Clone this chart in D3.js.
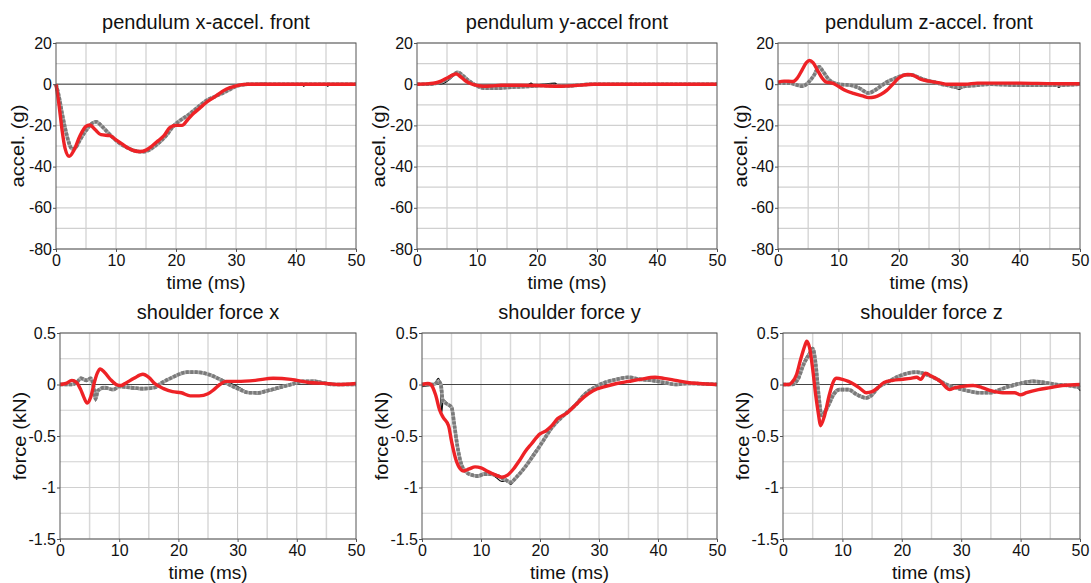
<!DOCTYPE html>
<html><head><meta charset="utf-8">
<script src="https://cdn.jsdelivr.net/npm/d3@7/dist/d3.min.js"></script>
<style>
body{margin:0;background:#fff;}
svg text{font-family:"Liberation Sans",Arial,sans-serif;fill:#111;}
</style></head>
<body><svg id="c" width="1091" height="583"></svg>
<script>
// ---------- DATA ----------
const titles = ["pendulum x-accel. front","pendulum y-accel front","pendulum z-accel. front","shoulder force x","shoulder force y","shoulder force z"];
const yLabels = ["accel. (g)","accel. (g)","accel. (g)","force (kN)","force (kN)","force (kN)"];
const xLabel = "time (ms)";
const xTicks = [0,10,20,30,40,50];
const accelTicks = [20,0,-20,-40,-60,-80];
const forceTicks = [0.5,0,-0.5,-1,-1.5];
const forceTickLabels = ["0.5","0","-0.5","-1","-1.5"];

// pendulum x-accel
const xAccRed = [[0,0],[0.5,-10],[1,-22],[1.5,-31],[2.2,-35],[3,-32],[4,-25],[5,-20.5],[5.6,-19.8],[6.5,-22],[7.5,-24.5],[9,-25],[10,-27],[11,-29],[12,-31],[13,-32.3],[14,-32.7],[15,-32],[16,-30],[17,-27.5],[18,-25],[19,-21],[20,-20],[21,-20],[22,-17],[23,-14],[24,-11.5],[25,-9],[26,-7],[27,-5],[28,-3],[29,-1.7],[30,-0.8],[31,-0.2],[32,0],[40,0],[50,0]];
const xAccGray = [[0,0],[0.5,-6],[1,-14],[1.5,-21],[2,-27],[2.7,-31.5],[3.2,-31],[4,-27],[5,-22.5],[6,-19],[6.7,-18.2],[7.5,-20],[8.5,-23],[9.5,-26],[10.5,-28.5],[12,-31],[13,-32.2],[14.5,-32.8],[15.5,-32],[16.5,-30],[17.5,-27.5],[18.5,-24.5],[19.5,-20.5],[20.5,-18],[22,-15],[23.5,-11.5],[25,-8],[26.5,-6],[28,-4],[29,-2.5],[30,-1],[31,-0.3],[32,0],[40,0],[50,0]];
const xAccBlack = [[0,0],[0.5,-6],[1,-14],[1.5,-21],[2,-27],[2.7,-31],[3.2,-30.5],[4,-26.5],[5,-22],[6,-19],[6.7,-18.5],[7.5,-20.5],[8.5,-23],[9.5,-25.5],[10.5,-28.5],[12,-31],[13,-32],[14.5,-32.5],[15.5,-32],[16.5,-30],[17.5,-27.5],[18.5,-24.5],[19.5,-21],[20.5,-18],[22,-15],[23.5,-11.5],[25,-8],[26.5,-6],[28,-4],[29,-2.5],[30,-1],[31,-0.3],[32,0],[35,0.5],[35.5,0],[41,0],[41.3,-1],[41.6,0],[45,0],[45.3,-1],[45.6,0],[50,0]];

// pendulum y-accel
const yAccRed = [[0,0],[2,0.3],[3,0.6],[4,1.5],[5,3],[6,4.5],[6.5,5],[7,4.2],[8,1.8],[9,0.2],[10,-0.6],[11,-1],[12.5,-0.8],[14,-0.5],[17,-0.5],[20,-0.6],[22,-0.9],[24,-1],[26,-0.7],[28,-0.3],[29.5,0],[40,0],[50,0]];
const yAccGray = [[0,0],[2,0],[3,0.3],[4,1],[5,2.5],[6,4.5],[6.8,5.8],[7.5,4.5],[8.5,2],[9.5,0],[10.5,-1.5],[11.5,-2],[13,-2],[15,-1.6],[17,-1.3],[19,-1],[21,-0.6],[23,-0.8],[25,-0.9],[27,-0.4],[29,0],[40,0],[50,0]];
const yAccBlack = [[0,-0.5],[2,-0.3],[3.5,0],[4.5,0.5],[5.5,2.5],[6.5,5],[7.2,5],[8,3],[9,0.8],[10.5,-1],[12,-1.2],[14,-1],[16,-0.8],[18.5,-0.3],[19,0.5],[19.5,-0.5],[21,0],[23,0.5],[23.5,-0.5],[26,-0.3],[29,0],[40,0],[50,0]];

// pendulum z-accel
const zAccRed = [[0,1],[1,1.5],[2.5,1.3],[3.2,3],[4,7],[4.7,10.5],[5.2,11.5],[5.8,10.5],[6.5,7],[7.3,3],[8,1],[9,0.5],[10,-1],[11,-2.8],[12.5,-4.5],[14,-5.7],[15,-6.5],[16,-6.2],[17,-5],[18,-3],[19,0],[20,3],[21.5,4.7],[22.5,4.2],[23.5,2.5],[25,1.5],[26,1],[27,0.5],[28,0],[31,0],[33,0.5],[40,0.5],[45,0.3],[50,0.2]];
const zAccGray = [[0,0.5],[2,0.5],[3,-0.3],[4,-1],[5,0.8],[6,4.5],[6.8,8.5],[7.5,6],[8.5,2],[10,0],[12,-0.5],[13.5,-2],[15,-4.3],[16,-3],[17,-1],[18,1],[19.5,3],[21,4.5],[22,4.6],[23.5,3],[25,1.5],[26,1],[27,0],[28,-0.5],[29.5,-1.5],[31,-1],[33,-0.5],[35,0],[40,-0.5],[46,-0.5],[50,0]];
const zAccBlack = [[0,0.5],[2,0.5],[3,-0.3],[4,-0.8],[5,1],[6,4.5],[6.8,8],[7.5,6],[8.5,2],[10,0],[12,-0.3],[13.5,-1.5],[15,-4],[16,-3],[17,-1],[18,1],[19.5,3],[21,4.3],[22,4.5],[23.5,3],[25,1.5],[26,1],[27,0],[28,-0.5],[29.5,-2],[30,-2.5],[31,-1],[33,-0.5],[35,0],[40,-0.5],[46,-0.5],[46.5,-1.5],[47,-0.5],[50,0]];

// shoulder force x
const fxRed = [[0,0],[1,0.01],[2,0.04],[2.8,0.02],[3.5,-0.05],[4,-0.12],[4.6,-0.18],[5.2,-0.12],[5.8,0.02],[6.3,0.11],[6.8,0.15],[7.5,0.12],[8.5,0.05],[9.5,0],[10.3,-0.01],[11,0.01],[12.5,0.06],[14,0.1],[15,0.07],[16,0.01],[17.5,-0.04],[19,-0.07],[20.5,-0.08],[22,-0.11],[23.5,-0.11],[25,-0.09],[26,-0.05],[27,0],[28,0.03],[30,0.03],[33,0.04],[36,0.06],[39,0.05],[40,0.04],[42,0.02],[45,0.01],[47,0],[50,0.01]];
const fxGray = [[0,0],[2,0],[3,0.03],[3.5,0.06],[4.5,0.04],[5.2,0.06],[5.7,-0.03],[6,-0.14],[6.4,-0.06],[7.5,-0.03],[9,-0.05],[10,-0.02],[12,-0.03],[14,-0.04],[16,-0.03],[17,0.01],[19,0.07],[21.5,0.12],[23,0.12],[25,0.1],[27,0.05],[28.5,0],[30,-0.04],[32,-0.08],[33.5,-0.08],[35,-0.06],[37,-0.03],[39,0],[41,0.03],[43,0.03],[44,0.02],[46,0],[50,0]];
const fxBlack = [[0,0],[2,0],[3,0.03],[3.5,0.07],[4.5,0.05],[5.2,0.06],[5.7,-0.02],[6,-0.16],[6.4,-0.07],[7,-0.04],[9,-0.05],[10,-0.02],[12,-0.04],[14,-0.05],[16,-0.03],[17,0.01],[19,0.07],[21.5,0.12],[23,0.12],[25,0.1],[27,0.06],[28.5,0.02],[30,-0.02],[32,-0.08],[33.5,-0.09],[35,-0.07],[37,-0.04],[39,0],[41,0.03],[43,0.04],[44,0.03],[46,0.01],[50,0]];

// shoulder force y
const fyRed = [[0,0],[1,0.01],[1.5,0],[2.3,-0.1],[3,-0.25],[3.6,-0.32],[4.5,-0.4],[5,-0.55],[5.7,-0.72],[6.5,-0.82],[7,-0.84],[8,-0.82],[9,-0.8],[10,-0.81],[11,-0.84],[12.5,-0.88],[13.5,-0.9],[14.5,-0.88],[15.5,-0.82],[16.5,-0.74],[17.5,-0.65],[18.5,-0.58],[20,-0.48],[21,-0.45],[22,-0.4],[23,-0.33],[24.5,-0.28],[26,-0.2],[27.5,-0.12],[29,-0.06],[31,-0.02],[33,0.01],[35,0.03],[37,0.05],[39.5,0.07],[41,0.06],[43,0.04],[45,0.02],[47,0.01],[50,0]];
const fyGray = [[0,0],[2,0],[2.8,0.03],[3.2,0],[3.5,-0.15],[4,-0.18],[5,-0.22],[5.5,-0.4],[6,-0.6],[6.7,-0.78],[7.5,-0.85],[8.5,-0.88],[9.5,-0.89],[10.5,-0.87],[11.5,-0.87],[12.5,-0.88],[14,-0.92],[15,-0.95],[16,-0.9],[17.5,-0.8],[19,-0.68],[20.5,-0.55],[22,-0.42],[24,-0.3],[26,-0.2],[27.5,-0.1],[29.5,-0.02],[31,0.02],[33,0.05],[35,0.07],[37,0.05],[39,0.04],[41,0.02],[43,0],[45,0.01],[50,0]];
const fyBlack = [[0,-0.02],[2,0],[2.8,0.06],[3.1,0],[3.3,-0.28],[3.6,-0.15],[4.5,-0.2],[5,-0.23],[5.5,-0.4],[6,-0.6],[6.7,-0.78],[7.5,-0.85],[8.5,-0.87],[9.5,-0.88],[10.5,-0.86],[11.5,-0.86],[12.5,-0.9],[13.5,-0.94],[14.5,-0.93],[15,-0.97],[16,-0.9],[17.5,-0.79],[19,-0.66],[20.5,-0.55],[22,-0.42],[24,-0.3],[26,-0.19],[27.5,-0.09],[29.5,-0.02],[31,0.02],[33,0.05],[35,0.07],[37,0.05],[39,0.03],[41,0.02],[43,0],[45,0.01],[50,0]];

// shoulder force z
const fzRed = [[0,0],[1,0],[1.5,0.02],[2.3,0.1],[3,0.25],[3.7,0.38],[4,0.42],[4.5,0.35],[5,0.15],[5.5,-0.1],[6,-0.3],[6.3,-0.4],[7,-0.3],[7.8,-0.1],[8.5,0.03],[9,0.06],[10,0.05],[11,0.03],[12,0],[13,-0.04],[14,-0.08],[15,-0.07],[16,-0.03],[17,0.02],[18.5,0.04],[20,0.05],[21.5,0.06],[22.5,0.07],[23.2,0.05],[24,0.11],[25,0.08],[26.5,0.03],[27.5,-0.03],[28,-0.05],[29,-0.03],[30,-0.02],[32,-0.01],[33.5,-0.03],[35,-0.06],[37,-0.08],[39,-0.08],[40,-0.1],[41,-0.08],[43,-0.05],[45,-0.03],[47,-0.01],[50,0]];
const fzGray = [[0,0],[1.5,0],[2.5,0.05],[3.5,0.2],[4.5,0.3],[5,0.35],[5.5,0.2],[6,-0.1],[6.5,-0.3],[7.5,-0.22],[8.5,-0.1],[9.5,-0.05],[11,-0.05],[12.5,-0.1],[14,-0.13],[15,-0.1],[16,-0.03],[17.5,0.02],[19.5,0.08],[21,0.11],[22.5,0.12],[24,0.1],[26,0.05],[27.5,0],[29,-0.03],[31,-0.06],[33,-0.08],[35,-0.08],[36.5,-0.05],[38,-0.02],[40,0.01],[42,0.03],[44,0.02],[46,0],[48,-0.01],[50,-0.03]];
const fzBlack = [[0,0],[1.5,0],[2.5,0.05],[3.5,0.22],[4.5,0.32],[5,0.36],[5.5,0.2],[6,-0.1],[6.5,-0.28],[7.5,-0.2],[8.5,-0.08],[9.5,-0.04],[11,-0.05],[12.5,-0.09],[14,-0.12],[15,-0.09],[16,-0.03],[17.5,0.02],[19.5,0.08],[21,0.1],[22.5,0.12],[24,0.1],[26,0.05],[27.5,0],[29,-0.03],[31,-0.06],[33,-0.08],[35,-0.08],[36.5,-0.05],[38,-0.01],[40,0.02],[42,0.04],[44,0.02],[46,0],[48,-0.01],[49.5,-0.02],[50,-0.06]];

// ---------- LAYOUT ----------
const boxes = [
  {l:56,r:356,t:43,b:249,yl:24},{l:417,r:717,t:43,b:249,yl:385},{l:778,r:1080,t:43,b:249,yl:747},
  {l:60,r:356,t:333,b:539,yl:26},{l:422,r:717,t:333,b:539,yl:388},{l:783,r:1080,t:333,b:539,yl:749}
];
const panels = [
  {series:[xAccBlack,xAccGray,xAccRed], dom:[-80,20], ticks:accelTicks, tl:accelTicks.map(String), grid:d3.range(-80,21,10)},
  {series:[yAccBlack,yAccGray,yAccRed], dom:[-80,20], ticks:accelTicks, tl:accelTicks.map(String), grid:d3.range(-80,21,10)},
  {series:[zAccBlack,zAccGray,zAccRed], dom:[-80,20], ticks:accelTicks, tl:accelTicks.map(String), grid:d3.range(-80,21,10)},
  {series:[fxBlack,fxGray,fxRed], dom:[-1.5,0.5], ticks:forceTicks, tl:forceTickLabels, grid:d3.range(-1.5,0.51,0.25)},
  {series:[fyBlack,fyGray,fyRed], dom:[-1.5,0.5], ticks:forceTicks, tl:forceTickLabels, grid:d3.range(-1.5,0.51,0.25)},
  {series:[fzBlack,fzGray,fzRed], dom:[-1.5,0.5], ticks:forceTicks, tl:forceTickLabels, grid:d3.range(-1.5,0.51,0.25)}
];
// each series may have several stroke layers
const styles = [
  [{stroke:"#111", w:1.3, dash:null}],
  [{stroke:"#a9a9a9", w:3.6, dash:null},{stroke:"#7a7a7a", w:3.6, dash:"3,1.5"}],
  [{stroke:"#ee2226", w:3.4, dash:null}]
];

const svg = d3.select("#c");
panels.forEach((p,i)=>{
  const b = boxes[i];
  const x = d3.scaleLinear().domain([0,50]).range([b.l,b.r]);
  const y = d3.scaleLinear().domain(p.dom).range([b.b,b.t]);
  const g = svg.append("g");
  // grid
  g.selectAll(".vg").data(d3.range(5,50,5)).join("line")
    .attr("x1",d=>x(d)).attr("x2",d=>x(d)).attr("y1",b.t).attr("y2",b.b)
    .attr("stroke",d=>d%10===0?"#c8c8c8":"#d8d8d8").attr("stroke-width",d=>d%10===0?1:1.5);
  g.selectAll(".hg").data(p.grid).join("line")
    .attr("x1",b.l).attr("x2",b.r).attr("y1",d=>y(d)).attr("y2",d=>y(d))
    .attr("stroke","#d0d0d0").attr("stroke-width",1.2);
  // zero line
  g.append("line").attr("x1",b.l).attr("x2",b.r).attr("y1",y(0)).attr("y2",y(0))
    .attr("stroke","#444").attr("stroke-width",1);
  // series
  const line = d3.line().x(d=>x(d[0])).y(d=>y(d[1])).curve(d3.curveMonotoneX);
  p.series.forEach((s,k)=>{
    styles[k].forEach(st=>{
      g.append("path").datum(s).attr("d",line).attr("fill","none")
        .attr("stroke",st.stroke).attr("stroke-width",st.w)
        .attr("stroke-dasharray",st.dash).attr("stroke-linejoin","round");
    });
  });
  // border
  g.append("rect").attr("x",b.l).attr("y",b.t).attr("width",b.r-b.l).attr("height",b.b-b.t)
    .attr("fill","none").attr("stroke","#555").attr("stroke-width",1);
  // axes
  const ax = g.append("g").attr("transform",`translate(0,${b.b})`)
    .call(d3.axisBottom(x).tickValues(xTicks).tickSize(3).tickPadding(3).tickFormat(d3.format("d")));
  ax.select(".domain").remove();
  ax.selectAll("line").attr("stroke","#555");
  ax.selectAll("text").attr("font-size",16).attr("fill","#111").attr("font-family","Liberation Sans, Arial, sans-serif");
  const ay = g.append("g").attr("transform",`translate(${b.l},0)`)
    .call(d3.axisLeft(y).tickValues(p.ticks).tickSize(3).tickPadding(1).tickFormat((d,j)=>p.tl[j]));
  ay.select(".domain").remove();
  ay.selectAll("line").attr("stroke","#555");
  ay.selectAll("text").attr("font-size",16).attr("fill","#111").attr("font-family","Liberation Sans, Arial, sans-serif");
  // titles and labels
  g.append("text").attr("x",(b.l+b.r)/2).attr("y",b.t-14).attr("text-anchor","middle")
    .attr("font-size",20).text(titles[i]);
  g.append("text").attr("x",(b.l+b.r)/2).attr("y",b.b+40).attr("text-anchor","middle")
    .attr("font-size",19).text(xLabel);
  g.append("text").attr("transform",`translate(${b.yl},${(b.t+b.b)/2}) rotate(-90) scale(1.12,1)`)
    .attr("text-anchor","middle").attr("font-size",18).text(yLabels[i]);
});
</script></body></html>
